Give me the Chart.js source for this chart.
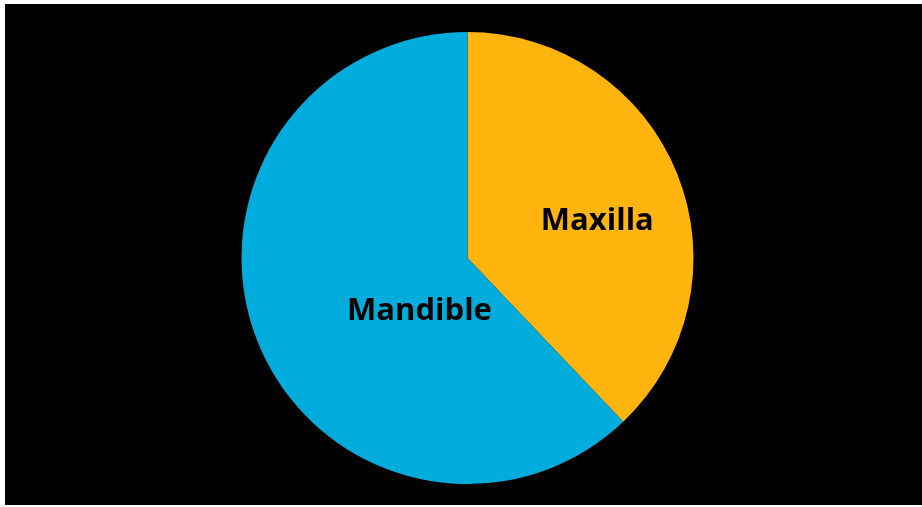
<!DOCTYPE html>
<html>
<head>
<meta charset="utf-8">
<script src="https://cdn.jsdelivr.net/npm/chart.js@4"></script>
<style>
  html, body { margin: 0; padding: 0; background: #ffffff; }
  #box { position: absolute; left: 5px; top: 4px; width: 917px; height: 501px; background: #000000; }
</style>
</head>
<body>
<div id="box"><canvas id="myChart"></canvas></div>
<script>
const LABELS = ['Maxilla', 'Mandible'];
const VALUES = [37.9, 62.1];
const COLORS = ['#FFB50D', '#00ACDB'];

// where each label sits: fraction of radius, and angle shift from the slice middle (degrees)
const LABEL_RADIUS = [0.6, 0.31];
const LABEL_SHIFT = [5, -25];

const sliceLabels = {
    id: 'sliceLabels',
    afterDatasetsDraw(chart) {
        var ctx = chart.ctx;
        var meta = chart.getDatasetMeta(0);
        ctx.save();
        ctx.font = '700 31px "Open Sans", sans-serif';
        ctx.fillStyle = '#000000';
        ctx.textAlign = 'center';
        ctx.textBaseline = 'middle';
        meta.data.forEach(function(arc, i) {
            var p = arc.getProps(['x', 'y', 'startAngle', 'endAngle', 'outerRadius'], true);
            var mid = (p.startAngle + p.endAngle) / 2 + LABEL_SHIFT[i] * Math.PI / 180;
            var r = p.outerRadius * LABEL_RADIUS[i];
            ctx.fillText(LABELS[i], p.x + Math.cos(mid) * r, p.y + Math.sin(mid) * r + 2);
        });
        ctx.restore();
    }
};

var myChart = new Chart(document.getElementById('myChart'), {
    type: 'pie',
    data: {
        labels: LABELS,
        datasets: [{
            data: VALUES,
            backgroundColor: COLORS,
            borderWidth: 0,
            hoverOffset: 0
        }]
    },
    options: {
        responsive: true,
        maintainAspectRatio: false,
        animation: false,
        layout: { padding: { left: 8, right: 0, top: 28, bottom: 21 } },
        plugins: {
            legend: { display: false },
            tooltip: { enabled: false }
        }
    },
    plugins: [sliceLabels]
});
</script>
</body>
</html>
